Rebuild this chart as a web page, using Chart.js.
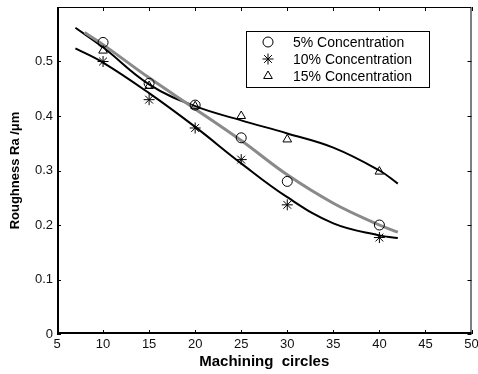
<!DOCTYPE html>
<html>
<head>
<meta charset="utf-8">
<script src="https://cdn.jsdelivr.net/npm/chart.js@4.4.1/dist/chart.umd.min.js"></script>
<style>
  html, body { margin: 0; padding: 0; background: #fff; }
  #wrap { width: 478px; height: 374px; position: relative; }
</style>
</head>
<body>
<div id="wrap"><canvas id="roughChart"></canvas></div>
<script>
// measured points
var cycles = [10, 15, 20, 25, 30, 40];
var conc5 = [0.535, 0.46, 0.42, 0.36, 0.28, 0.20];
var conc10 = [0.50, 0.43, 0.378, 0.32, 0.237, 0.177];
var conc15 = [0.52, 0.455, 0.418, 0.40, 0.357, 0.298];

// fitted curves
var fitX = [7, 10, 15, 20, 25, 30, 35, 40, 42];
var fitX5 = [8, 10, 15, 20, 25, 30, 35, 40, 42];
var fit5 = [0.553, 0.531, 0.47, 0.413, 0.355, 0.292, 0.24, 0.2, 0.187];
var fit10 = [0.524, 0.498, 0.442, 0.38, 0.313, 0.251, 0.203, 0.181, 0.176];
var fit15 = [0.562, 0.526, 0.458, 0.418, 0.392, 0.368, 0.342, 0.30, 0.276];

var xTicks = [5, 10, 15, 20, 25, 30, 35, 40, 45, 50];
var yTicks = [0, 0.1, 0.2, 0.3, 0.4, 0.5];

function pts(xs, ys) {
	return xs.map(function(x, i) { return {x: x, y: ys[i]}; });
}

// box round the plot with inward ticks on all four sides, plus the legend
var boxPlugin = {
	id: 'box',
	afterDraw: function(chart) {
		var ctx = chart.ctx, a = chart.chartArea;
		var xs = chart.scales.x, ys = chart.scales.y;
		ctx.save();
		ctx.strokeStyle = '#000';
		ctx.lineWidth = 1;
		ctx.strokeRect(a.left + 0.5, a.top + 0.5, a.right - a.left - 1, a.bottom - a.top - 1);
		ctx.lineWidth = 2;
		ctx.beginPath();
		ctx.moveTo(a.left + 1, a.top);
		ctx.lineTo(a.left + 1, a.bottom - 1);
		ctx.lineTo(a.right, a.bottom - 1);
		ctx.stroke();
		ctx.lineWidth = 1;
		ctx.beginPath();
		xTicks.forEach(function(v) {
			var px = Math.round(xs.getPixelForValue(v)) + 0.5;
			ctx.moveTo(px, a.bottom); ctx.lineTo(px, a.bottom - 4);
			ctx.moveTo(px, a.top); ctx.lineTo(px, a.top + 4);
		});
		yTicks.forEach(function(v) {
			var py = Math.round(ys.getPixelForValue(v)) + 0.5;
			ctx.moveTo(a.left, py); ctx.lineTo(a.left + 4, py);
			ctx.moveTo(a.right, py); ctx.lineTo(a.right - 4, py);
		});
		ctx.stroke();

		// legend box
		var lx = 246, ly = 31, lw = 183, lh = 56;
		ctx.fillStyle = '#fff';
		ctx.fillRect(lx, ly, lw, lh);
		ctx.strokeRect(lx + 0.5, ly + 0.5, lw, lh);
		ctx.font = '14px "Liberation Sans", Arial, sans-serif';
		ctx.textBaseline = 'middle';
		[0, 1, 2].forEach(function(i) {
			var ds = chart.data.datasets[i];
			var cy = ly + 11 + i * 17;
			ctx.fillStyle = 'rgba(0,0,0,0)';
			ctx.strokeStyle = '#000';
			Chart.helpers.drawPoint(ctx, {
				pointStyle: ds.pointStyle, radius: ds.pointRadius, rotation: 0,
				borderWidth: 1
			}, 268, cy);
			ctx.fillStyle = '#000';
			ctx.fillText(ds.label, 293, cy + 1);
		});
		ctx.restore();
	}
};

var chartArea = document.getElementById('roughChart').getContext('2d');
var myChart = new Chart(chartArea, {
	type: 'scatter',
	data: {
		datasets: [{
			label: '5% Concentration',
			data: pts(cycles, conc5),
			pointStyle: 'circle',
			pointRadius: 5,
			borderColor: '#000',
			backgroundColor: 'rgba(0,0,0,0)',
			borderWidth: 1
		},
		{
			label: '10% Concentration',
			data: pts(cycles, conc10),
			pointStyle: 'star',
			pointRadius: 5.5,
			borderColor: '#000',
			backgroundColor: 'rgba(0,0,0,0)',
			borderWidth: 1
		},
		{
			label: '15% Concentration',
			data: pts(cycles, conc15),
			pointStyle: 'triangle',
			pointRadius: 5,
			borderColor: '#000',
			backgroundColor: 'rgba(0,0,0,0)',
			borderWidth: 1
		},
		{
			label: 'fit 5%',
			data: pts(fitX5, fit5),
			showLine: true,
			pointRadius: 0,
			borderColor: '#8a8a8a',
			borderWidth: 3,
			tension: 0.4
		},
		{
			label: 'fit 10%',
			data: pts(fitX, fit10),
			showLine: true,
			pointRadius: 0,
			borderColor: '#000',
			borderWidth: 2,
			tension: 0.4
		},
		{
			label: 'fit 15%',
			data: pts(fitX, fit15),
			showLine: true,
			pointRadius: 0,
			borderColor: '#000',
			borderWidth: 2,
			tension: 0.4
		}]
	},
	options: {
		responsive: true,
		maintainAspectRatio: false,
		animation: false,
		layout: { padding: { top: 7, right: 2, left: 0, bottom: 0 } },
		plugins: {
			legend: { display: false },
			tooltip: { enabled: false }
		},
		scales: {
			x: {
				type: 'linear',
				min: 5,
				max: 50,
				grid: { display: false, drawTicks: false },
				border: { display: false },
				afterBuildTicks: function(s) { s.ticks = xTicks.map(function(v) { return {value: v}; }); },
				afterFit: function(s) { s.height = 40; s.paddingRight = 0; s.paddingLeft = 0; },
				ticks: {
					color: '#111',
					padding: 3,
					maxRotation: 0,
					font: { family: '"Liberation Sans", Arial, sans-serif', size: 13 }
				},
				title: {
					display: true,
					text: 'Machining  circles',
					color: '#000',
					padding: { top: 0, bottom: 3 },
					font: { family: '"Liberation Sans", Arial, sans-serif', size: 15, weight: 'bold' }
				}
			},
			y: {
				min: 0,
				max: 0.6,
				grid: { display: false, drawTicks: false },
				border: { display: false },
				afterBuildTicks: function(s) { s.ticks = yTicks.map(function(v) { return {value: v}; }); },
				afterFit: function(s) { s.width = 57; s.paddingTop = 0; s.paddingBottom = 0; },
				ticks: {
					color: '#111',
					padding: 4,
					font: { family: '"Liberation Sans", Arial, sans-serif', size: 13 },
					callback: function(v) { return String(Math.round(v * 10) / 10); }
				},
				title: {
					display: true,
					text: 'Roughness Ra /μm',
					color: '#000',
					padding: { top: 8, bottom: 0 },
					font: { family: '"Liberation Sans", Arial, sans-serif', size: 13, weight: 'bold' }
				}
			}
		}
	},
	plugins: [boxPlugin]
});
</script>
</body>
</html>
